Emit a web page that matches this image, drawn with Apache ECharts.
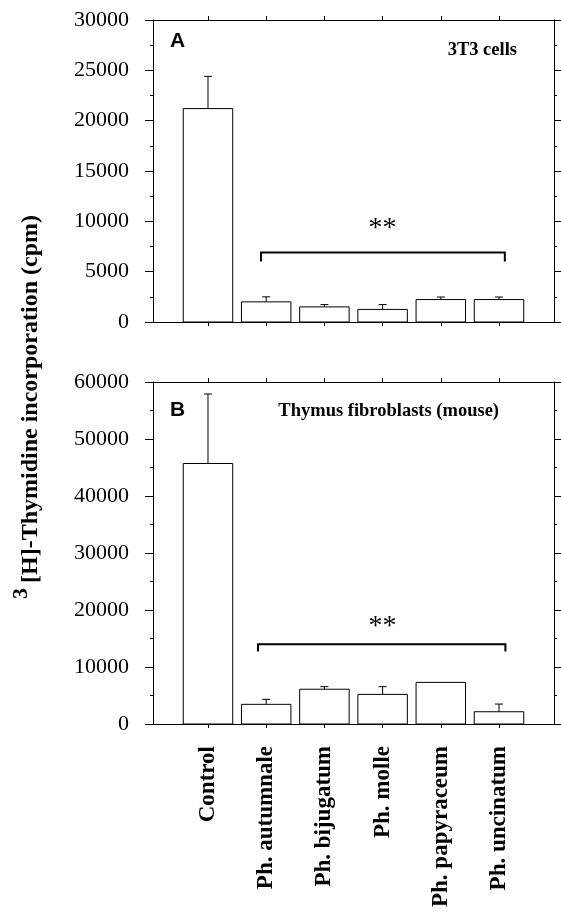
<!DOCTYPE html>
<html>
<head>
<meta charset="utf-8">
<script src="https://cdn.jsdelivr.net/npm/echarts@6.0.0/dist/echarts.min.js"></script>
<style>
  html, body { margin: 0; padding: 0; background: #fff; }
  #chart { width: 561px; height: 917px; }
</style>
</head>
<body>
<div id="chart"></div>
<script>
// categories and values (cpm)
var categories = ['Control', 'Ph. autumnale', 'Ph. bijugatum', 'Ph. molle', 'Ph. papyraceum', 'Ph. uncinatum'];
var cellsMean = [21200, 2000, 1500, 1250, 2230, 2230];
var cellsSd = [3200, 500, 230, 480, 250, 250];
var thymusMean = [45700, 3450, 6100, 5200, 7300, 2150];
var thymusSd = [12200, 880, 450, 1350, 0, 1350];
var cellsTicks = [0, 30000, 5000];
var thymusTicks = [0, 60000, 10000];
// significance brackets: [x start, x end, y line, y end of drops], star label at [x, y]
var bracketA = [0.91, 5.1, 6900, 6000];
var starsA = [3, 9300];
var bracketB = [0.86, 5.11, 14000, 12700];
var starsB = [3, 17100];

var serif = '"Liberation Serif", "Times New Roman", serif';
var sans = '"Liberation Sans", Arial, sans-serif';
var catIdx = categories.map(function (c, i) { return i; });

var chart = echarts.init(document.getElementById('chart'));

function xAxisDef(grid, pos, labels) {
  return {
    type: 'value', gridIndex: grid, position: pos,
    min: -0.945, max: 5.945,
    axisLine: { onZero: false, lineStyle: { color: '#000', width: 1 } },
    axisTick: { show: true, customValues: catIdx, length: 4, lineStyle: { color: '#000' } },
    axisLabel: labels ? {
      show: true, customValues: catIdx, rotate: 90, margin: 22,
      fontFamily: serif, fontWeight: 'bold', fontSize: 23, color: '#000',
      formatter: function (v) { return categories[Math.round(v)]; }
    } : { show: false },
    splitLine: { show: false }
  };
}

function yAxisDef(grid, pos, ticks) {
  return {
    type: 'value', gridIndex: grid, position: pos,
    min: ticks[0], max: ticks[1], interval: ticks[2],
    axisLine: { show: true, onZero: false, lineStyle: { color: '#000', width: 1 } },
    axisTick: { show: true, length: 8, lineStyle: { color: '#000' } },
    minorTick: { show: true, splitNumber: 2, length: 3, lineStyle: { color: '#000' } },
    axisLabel: pos === 'left' ? {
      show: true, margin: 24, fontFamily: serif, fontSize: 22, color: '#000',
      formatter: function (v) { return String(v); }
    } : { show: false },
    splitLine: { show: false }
  };
}

function barSeries(axis, mean, sd) {
  return {
    type: 'custom', xAxisIndex: axis, yAxisIndex: axis, clip: false,
    data: mean.map(function (m, i) { return [i, m, sd[i]]; }),
    renderItem: function (params, api) {
      var x = api.value(0), m = api.value(1), s = api.value(2);
      var w = api.size([1, 0])[0] * 0.85;
      var top = api.coord([x, m]);
      var base = api.coord([x, 0]);
      var children = [{
        type: 'rect',
        shape: { x: top[0] - w / 2, y: top[1], width: w, height: base[1] - top[1] },
        style: { fill: '#fff', stroke: '#000', lineWidth: 1 }
      }];
      if (s > 0) {
        var hi = api.coord([x, m + s]);
        children.push({ type: 'line', shape: { x1: top[0], y1: top[1], x2: hi[0], y2: hi[1] }, style: { stroke: '#000', lineWidth: 1 } });
        children.push({ type: 'line', shape: { x1: hi[0] - 4, y1: hi[1], x2: hi[0] + 4, y2: hi[1] }, style: { stroke: '#000', lineWidth: 1 } });
      }
      return { type: 'group', children: children };
    }
  };
}

function bracketSeries(axis, br, stars) {
  return {
    type: 'custom', xAxisIndex: axis, yAxisIndex: axis, clip: false, silent: true,
    data: [br.concat(stars)],
    renderItem: function (params, api) {
      var a = api.coord([api.value(0), api.value(3)]);
      var b = api.coord([api.value(0), api.value(2)]);
      var c = api.coord([api.value(1), api.value(2)]);
      var d = api.coord([api.value(1), api.value(3)]);
      var st = api.coord([api.value(4), api.value(5)]);
      return {
        type: 'group',
        children: [{
          type: 'polyline',
          shape: { points: [a, b, c, d] },
          style: { stroke: '#000', lineWidth: 2, fill: null }
        }, {
          type: 'text',
          x: st[0], y: st[1],
          style: { text: '**', font: '28px ' + serif, fill: '#000', align: 'center', verticalAlign: 'middle' }
        }]
      };
    }
  };
}

var option = {
  animation: false,
  grid: [
    { left: 153, top: 20, right: 7, height: 302 },
    { left: 153, top: 382, right: 7, height: 342 }
  ],
  xAxis: [
    xAxisDef(0, 'bottom', false),
    xAxisDef(0, 'top', false),
    xAxisDef(1, 'bottom', true),
    xAxisDef(1, 'top', false)
  ],
  yAxis: [
    yAxisDef(0, 'left', cellsTicks),
    yAxisDef(0, 'right', cellsTicks),
    yAxisDef(1, 'left', thymusTicks),
    yAxisDef(1, 'right', thymusTicks)
  ],
  series: [
    barSeries(0, cellsMean, cellsSd),
    bracketSeries(0, bracketA, starsA),
    barSeries(2, thymusMean, thymusSd),
    bracketSeries(2, bracketB, starsB)
  ],
  graphic: [
    { type: 'text', x: 170, y: 41, style: { text: 'A', font: 'bold 21px ' + sans, fill: '#000', verticalAlign: 'middle' } },
    { type: 'text', x: 170, y: 410, style: { text: 'B', font: 'bold 21px ' + sans, fill: '#000', verticalAlign: 'middle' } },
    { type: 'text', x: 517, y: 50, style: { text: '3T3 cells', font: 'bold 18.5px ' + serif, fill: '#000', align: 'right', verticalAlign: 'middle' } },
    { type: 'text', x: 499, y: 411, style: { text: 'Thymus fibroblasts (mouse)', font: 'bold 18.5px ' + serif, fill: '#000', align: 'right', verticalAlign: 'middle' } },
    // y-axis title, rotated to read upwards; the leading 3 is a superscript
    { type: 'text', x: 21, y: 599, rotation: Math.PI / 2,
      style: { text: '3', font: 'bold 22px ' + serif, fill: '#000', align: 'left', verticalAlign: 'middle' } },
    { type: 'text', x: 31, y: 583, rotation: Math.PI / 2,
      style: { text: '[H]-Thymidine incorporation (cpm)', font: 'bold 24px ' + serif, fill: '#000', align: 'left', verticalAlign: 'middle' } }
  ]
};
chart.setOption(option);
</script>
</body>
</html>
